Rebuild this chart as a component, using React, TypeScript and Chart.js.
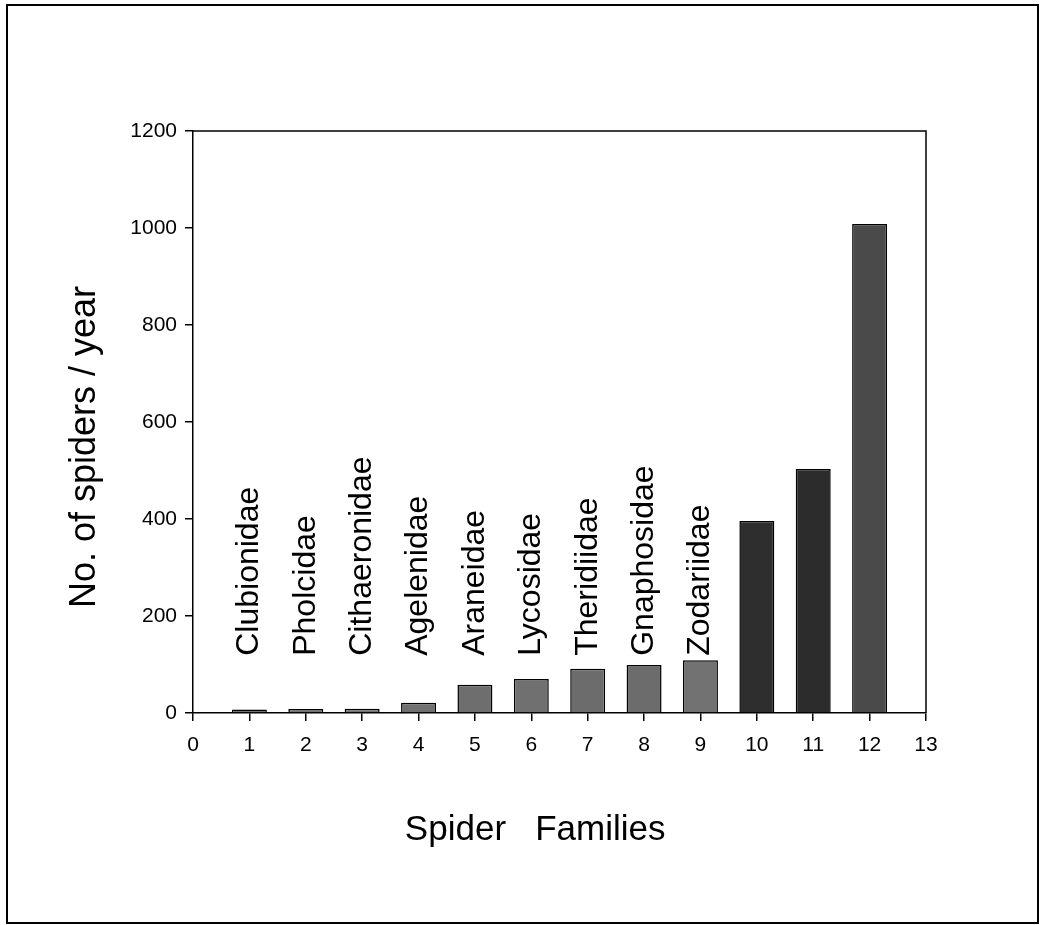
import React, { useEffect, useRef } from "react";
import { Chart, registerables } from "chart.js";

Chart.register(...registerables);

const xPositions = [1, 2, 3, 4, 5, 6, 7, 8, 9, 10, 11, 12];
const counts = [7, 8, 9, 21, 58, 70, 91, 99, 109, 396, 503, 1008];
const families = [
  "Clubionidae",
  "Pholcidae",
  "Cithaeronidae",
  "Agelenidae",
  "Araneidae",
  "Lycosidae",
  "Theridiidae",
  "Gnaphosidae",
  "Zodariidae",
];
const barColors = [
  "#747474", "#747474", "#747474", "#707070", "#6e6e6e", "#707070",
  "#6c6c6c", "#6c6c6c", "#727272", "#2e2e2e", "#2c2c2c", "#4a4a4a",
];
const yTickStep = 200;
const xTickStep = 1;
const LABEL_BASE_VALUE = 118;

const FONT = "'Liberation Sans', Arial, Helvetica, sans-serif";

const decorPlugin = {
  id: "decor",
  beforeDraw(chart: any) {
    const { ctx, width, height } = chart;
    ctx.save();
    ctx.fillStyle = "#ffffff";
    ctx.fillRect(0, 0, width, height);
    ctx.restore();
  },
  afterDraw(chart: any) {
    const { ctx, chartArea } = chart;
    ctx.save();
    // outer frame
    ctx.strokeStyle = "#000";
    ctx.lineWidth = 2;
    ctx.strokeRect(7, 5, 1031, 918);
    // plot area top & right border
    ctx.lineWidth = 1.5;
    ctx.beginPath();
    ctx.moveTo(chartArea.left, chartArea.top);
    ctx.lineTo(chartArea.right, chartArea.top);
    ctx.lineTo(chartArea.right, chartArea.bottom);
    ctx.stroke();
    // family labels
    const xs = chart.scales.x;
    const ys = chart.scales.y;
    ctx.fillStyle = "#000";
    ctx.font = `32px ${FONT}`;
    ctx.textAlign = "left";
    ctx.textBaseline = "middle";
    families.forEach((name, i) => {
      const px = xs.getPixelForValue(xPositions[i]);
      const py = ys.getPixelForValue(LABEL_BASE_VALUE);
      ctx.save();
      ctx.translate(px, py);
      ctx.rotate(-Math.PI / 2);
      ctx.fillText(name, 0, 0);
      ctx.restore();
    });
    ctx.restore();
  },
};

export default function App() {
  const ref = useRef<HTMLCanvasElement | null>(null);
  useEffect(() => {
    if (!ref.current) return;
    const tickFont = { family: FONT, size: 21 };
    const gridOpts = {
      display: true,
      drawOnChartArea: false,
      drawTicks: true,
      tickLength: 8,
      color: "#000",
      lineWidth: 1.5,
      offset: false,
    };
    const chart = new Chart(ref.current, {
      type: "bar",
      data: {
        datasets: [
          {
            data: xPositions.map((x, i) => ({ x, y: counts[i] })),
            backgroundColor: barColors,
            borderColor: "#000",
            borderWidth: 1.5,
            barPercentage: 0.62,
            categoryPercentage: 1,
          },
        ],
      },
      options: {
        responsive: false,
        animation: false,
        layout: { padding: { top: 131, right: 116, bottom: 0, left: 0 } },
        plugins: { legend: { display: false }, tooltip: { enabled: false } },
        scales: {
          x: {
            type: "linear",
            min: 0,
            max: 13,
            offset: false,
            ticks: {
              stepSize: xTickStep,
              font: tickFont,
              color: "#000",
              padding: 12,
              callback: (v: any) => String(v),
            },
            grid: gridOpts,
            border: { display: true, color: "#000", width: 1.5 },
            title: {
              display: true,
              text: "Spider   Families     ",
              color: "#000",
              font: { family: FONT, size: 35 },
              padding: { top: 0, bottom: 74 },
            },
            afterFit: (s: any) => {
              s.height = 212;
            },
          },
          y: {
            type: "linear",
            min: 0,
            max: 1200,
            ticks: {
              stepSize: yTickStep,
              font: tickFont,
              color: "#000",
              padding: 8,
              callback: (v: any) => String(v),
            },
            grid: gridOpts,
            border: { display: true, color: "#000", width: 1.5 },
            title: {
              display: true,
              text: "No. of spiders / year     ",
              color: "#000",
              font: { family: FONT, size: 36 },
              padding: { top: 63, bottom: 0 },
            },
            afterFit: (s: any) => {
              s.width = 193;
            },
          },
        },
      } as any,
      plugins: [decorPlugin],
    });
    return () => chart.destroy();
  }, []);
  return (
    <div style={{ position: "absolute", left: 0, top: 0, width: 1042, height: 925 }}>
      <canvas ref={ref} width={1042} height={925} style={{ display: "block" }} />
    </div>
  );
}
